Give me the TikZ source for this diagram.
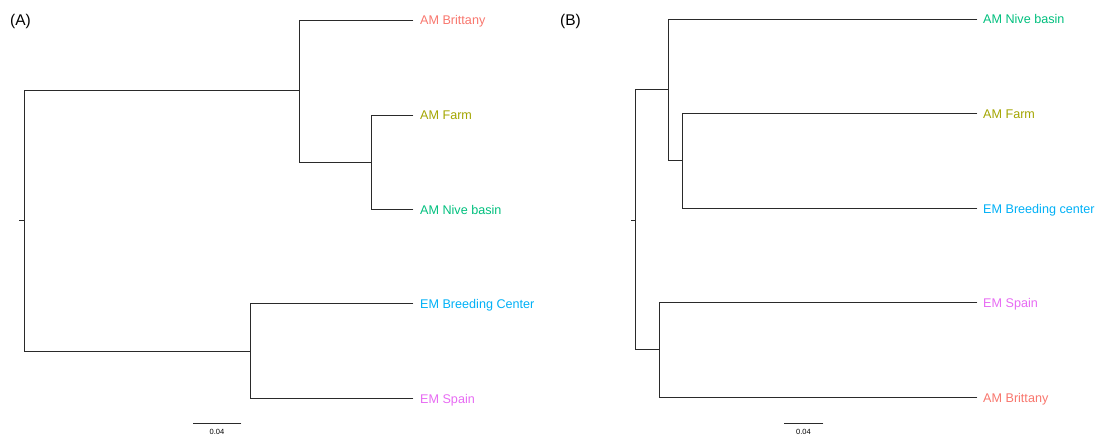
\documentclass[tikz,border=0pt]{standalone}
\usepackage{fontspec}
\setmainfont{Liberation Sans}
\definecolor{cBrit}{HTML}{F8766D}
\definecolor{cFarm}{HTML}{A3A500}
\definecolor{cNive}{HTML}{00BF7D}
\definecolor{cBreed}{HTML}{00B0F6}
\definecolor{cSpain}{HTML}{E76BF3}
\definecolor{edge}{HTML}{2A2A2A}
\tikzset{
  branch/.style={draw=edge, line width=0.8pt, line cap=rect},
  leaflabel/.style={anchor=base west, inner sep=0pt, font=\fontsize{12.6}{14}\selectfont},
  panel/.style={anchor=base west, inner sep=0pt, font=\fontsize{15.5}{18}\selectfont},
  scalelabel/.style={anchor=base, inner sep=0pt, font=\fontsize{7.5}{9}\selectfont},
}
\begin{document}
\begin{tikzpicture}[x=1pt,y=-1pt]
\useasboundingbox (0,0) rectangle (1096,436);
% ---------- Panel A ----------
\node[panel] (pA) at (10,26) {(A)};
\coordinate (rA) at (24,220);
\coordinate (rAt) at (19,220);
\coordinate (nA1) at (299,90);
\coordinate (nA2) at (250,351);
\coordinate (nA3) at (371,162);
\coordinate (tA1) at (413,20);
\coordinate (tA2) at (413,115);
\coordinate (tA3) at (413,209);
\coordinate (tA4) at (413,303);
\coordinate (tA5) at (413,398);
\node[leaflabel, text=cBrit]  (lA1) at (420,25)  {AM Brittany};
\node[leaflabel, text=cFarm]  (lA2) at (420,120) {AM Farm};
\node[leaflabel, text=cNive]  (lA3) at (420,214) {AM Nive basin};
\node[leaflabel, text=cBreed] (lA4) at (420,308) {EM Breeding Center};
\node[leaflabel, text=cSpain] (lA5) at (420,403) {EM Spain};
\draw[branch] (rAt) -- (rA);
\draw[branch] (rA) |- (nA1);
\draw[branch] (rA) |- (nA2);
\draw[branch] (nA1) |- (tA1);
\draw[branch] (nA1) |- (nA3);
\draw[branch] (nA3) |- (tA2);
\draw[branch] (nA3) |- (tA3);
\draw[branch] (nA2) |- (tA4);
\draw[branch] (nA2) |- (tA5);
\coordinate (sA1) at (193,423);
\coordinate (sA2) at (241,423);
\draw[branch] (sA1) -- (sA2);
\node[scalelabel] (sAl) at (217,434) {0.04};
% ---------- Panel B ----------
\node[panel] (pB) at (560,26) {(B)};
\coordinate (rB) at (635,220);
\coordinate (rBt) at (631,220);
\coordinate (nB1) at (668,89);
\coordinate (nB2) at (659,349);
\coordinate (nB3) at (682,160);
\coordinate (tB1) at (977,19);
\coordinate (tB2) at (977,113);
\coordinate (tB3) at (977,208);
\coordinate (tB4) at (977,302);
\coordinate (tB5) at (977,397);
\node[leaflabel, text=cNive]  (lB1) at (983,24)  {AM Nive basin};
\node[leaflabel, text=cFarm]  (lB2) at (983,118) {AM Farm};
\node[leaflabel, text=cBreed] (lB3) at (983,213) {EM Breeding center};
\node[leaflabel, text=cSpain] (lB4) at (983,307) {EM Spain};
\node[leaflabel, text=cBrit]  (lB5) at (983,402) {AM Brittany};
\draw[branch] (rBt) -- (rB);
\draw[branch] (rB) |- (nB1);
\draw[branch] (rB) |- (nB2);
\draw[branch] (nB1) |- (tB1);
\draw[branch] (nB1) |- (nB3);
\draw[branch] (nB3) |- (tB2);
\draw[branch] (nB3) |- (tB3);
\draw[branch] (nB2) |- (tB4);
\draw[branch] (nB2) |- (tB5);
\coordinate (sB1) at (784,423);
\coordinate (sB2) at (823,423);
\draw[branch] (sB1) -- (sB2);
\node[scalelabel] (sBl) at (803.5,434) {0.04};
\end{tikzpicture}
\end{document}
